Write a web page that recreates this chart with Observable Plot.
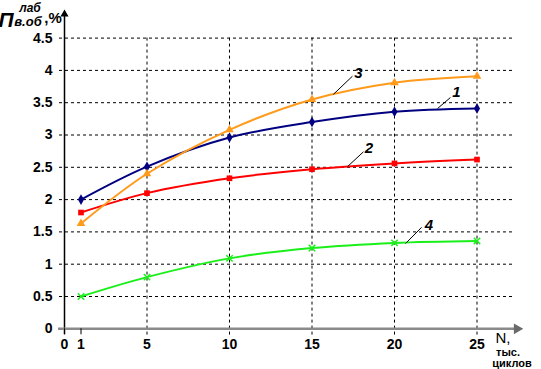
<!DOCTYPE html>
<html>
<head>
<meta charset="utf-8">
<script src="https://cdn.jsdelivr.net/npm/d3@7"></script>
<script src="https://cdn.jsdelivr.net/npm/@observablehq/plot@0.6"></script>
<style>
  html, body { margin: 0; padding: 0; background: #fff; }
  #chart { width: 541px; height: 369px; }
</style>
</head>
<body>
<div id="chart"></div>
<script>
// ---- data ----
const N = [1, 5, 10, 15, 20, 25];
const series1 = [2.00, 2.51, 2.96, 3.20, 3.36, 3.41];
const series2 = [1.80, 2.10, 2.33, 2.47, 2.56, 2.62];
const series3 = [1.63, 2.40, 3.08, 3.55, 3.81, 3.91];
const series4 = [0.50, 0.80, 1.09, 1.25, 1.33, 1.36];
const seriesNames = ["1", "2", "3", "4"];
const seriesColors = ["#000080", "#ff0000", "#ff9a1a", "#1aef1a"];
const seriesSymbols = ["diamond", "square", "triangle", "times"];
const xTicks = [0, 1, 5, 10, 15, 20, 25];
const yTicks = [0, 0.5, 1, 1.5, 2, 2.5, 3, 3.5, 4, 4.5];
// curve labels (data coordinates): text position and leader line
const labelX = [23.76, 18.45, 17.82, 22.09];
const labelY = [3.67, 2.79, 3.95, 1.61];
const leadX1 = [23.39, 18.12, 17.45, 21.64];
const leadY1 = [3.58, 2.74, 3.91, 1.57];
const leadX2 = [22.61, 17.15, 16.30, 20.67];
const leadY2 = [3.41, 2.51, 3.63, 1.32];
const titleMain = "П";
const titleSup = "лаб";
const titleSub = "в.об";
const titleUnit = ",%";
const xLabel = ["N,", "тыс.", "циклов"];

const allSeries = [series1, series2, series3, series4];
const rows = allSeries.map((vals, i) => N.map((n, j) => ({n, v: vals[j], s: seriesNames[i]})));
const labels = seriesNames.map((name, i) => ({
  name, x: labelX[i], y: labelY[i], x1: leadX1[i], y1: leadY1[i], x2: leadX2[i], y2: leadY2[i]
}));
const order = [3, 1, 0, 2];

const marks = [
  Plot.ruleY(yTicks.filter(d => d > 0), {stroke: "black", strokeDasharray: "3,3", insetLeft: -5, insetRight: -35.5}),
  Plot.ruleX(xTicks.filter(d => d >= 5), {stroke: "black", strokeDasharray: "3,3", insetBottom: -8}),
  Plot.ruleX([0], {stroke: "black", strokeWidth: 1.5, insetTop: -25, insetBottom: -6}),
  Plot.dot([0], {frameAnchor: "top-left", dy: -24, symbol: "triangle", r: 3, fill: "black"}),
  Plot.ruleY([0], {stroke: "#8a8a8a", strokeWidth: 2.5, insetLeft: -6, insetRight: -40}),
  Plot.dot([0], {frameAnchor: "bottom-right", dx: 40, symbol: "triangle", rotate: 90, r: 4, fill: "#6a6a6a"}),
  Plot.axisY({ticks: yTicks, tickSize: 0, tickPadding: 12, label: null, tickFormat: d => String(d)}),
  Plot.axisX({ticks: [0, 1], tickSize: 6, tickPadding: 4, label: null}),
  Plot.axisX({ticks: xTicks.filter(d => d >= 5), tickSize: 0, tickPadding: 10, label: null})
];
for (const i of order) {
  marks.push(Plot.line(rows[i], {x: "n", y: "v", stroke: seriesColors[i], strokeWidth: 2, curve: "catmull-rom"}));
  const isStroke = seriesSymbols[i] === "times";
  marks.push(Plot.dot(rows[i], {
    x: "n", y: "v", symbol: seriesSymbols[i], r: isStroke ? 3 : 3.2,
    fill: isStroke ? "none" : seriesColors[i], stroke: isStroke ? seriesColors[i] : "none", strokeWidth: 1.5
  }));
}
marks.push(Plot.link(labels, {x1: "x1", y1: "y1", x2: "x2", y2: "y2", stroke: "black", strokeWidth: 1}));
marks.push(Plot.text(labels, {x: "x", y: "y", text: "name", fontStyle: "italic", fontWeight: "bold", fontSize: 15, fill: "black"}));

const svg = Plot.plot({
  width: 541,
  height: 369,
  marginLeft: 64,
  marginRight: 64.5,
  marginTop: 37.6,
  marginBottom: 40.7,
  x: {domain: [0, 25]},
  y: {domain: [0, 4.5]},
  style: {fontFamily: "'Liberation Sans', Arial, sans-serif", fontSize: "14px", fontWeight: "bold", background: "white", overflow: "visible", color: "black"},
  marks
});

const s = d3.select(svg);
const t = s.append("g").attr("font-family", "'Liberation Sans', Arial, sans-serif").attr("fill", "black");
t.append("text").attr("x", 6).attr("y", 27).attr("font-size", 21).attr("font-weight", "bold").attr("font-style", "italic").text(titleMain);
t.append("text").attr("x", 30).attr("y", 12).attr("font-size", 12).attr("font-weight", "bold").attr("font-style", "italic").text(titleSup);
t.append("text").attr("x", 28).attr("y", 26).attr("font-size", 13).attr("font-weight", "bold").attr("font-style", "italic").text(titleSub);
t.append("text").attr("x", 53).attr("y", 23).attr("font-size", 15).attr("font-weight", "bold").text(titleUnit);
t.append("text").attr("x", 503).attr("y", 343).attr("font-size", 15).attr("font-weight", "normal").attr("text-anchor", "middle").text(xLabel[0]);
t.append("text").attr("x", 508).attr("y", 356).attr("font-size", 11).attr("font-weight", "bold").attr("text-anchor", "middle").text(xLabel[1]);
t.append("text").attr("x", 512).attr("y", 367).attr("font-size", 11).attr("font-weight", "bold").attr("text-anchor", "middle").text(xLabel[2]);

document.getElementById("chart").appendChild(svg);
</script>
</body>
</html>
